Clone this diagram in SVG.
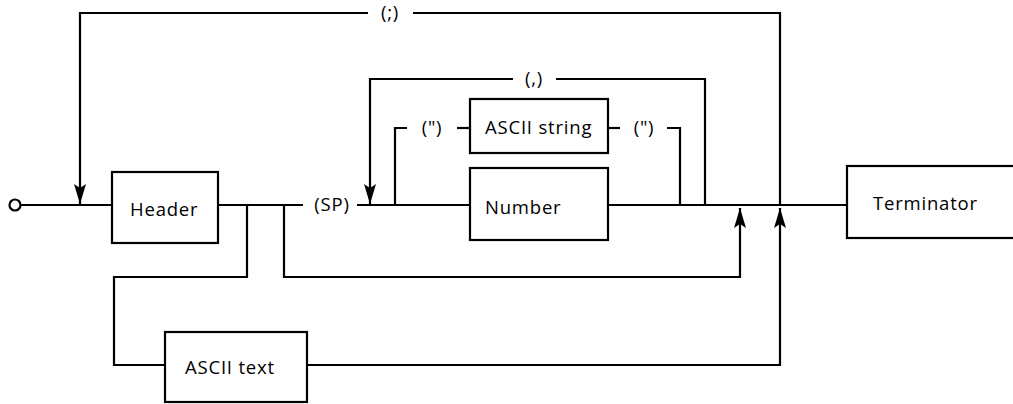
<svg xmlns="http://www.w3.org/2000/svg" width="1013" height="404" viewBox="0 0 1013 404">
<style>
.box{fill:#fff;stroke:#000;stroke-width:2.2}
.ln{fill:none;stroke:#000;stroke-width:2.2}
.t{font-family:"Open Sans","Liberation Sans",sans-serif;font-size:18.5px;fill:#000;letter-spacing:0.8px}
</style>
<defs>
<marker id="ah" viewBox="0 0 20 12" refX="20" refY="6" markerWidth="20" markerHeight="12" markerUnits="userSpaceOnUse" orient="auto">
<path d="M0,0 L20,6 L0,12 L4,6 Z" fill="#000"/>
</marker>
</defs>
<g id="connectors">
<circle cx="15" cy="205" r="5.5" class="ln" fill="#fff"/>
<path class="ln" d="M20.5,205 H112"/>
<path class="ln" d="M218,205 H303"/>
<path class="ln" d="M357,205 H470"/>
<path class="ln" d="M608,205 H847"/>
<path class="ln" d="M368,13 H80 V204" marker-end="url(#ah)"/>
<path class="ln" d="M413,13 H780 V205"/>
<path class="ln" d="M513,79 H370 V204" marker-end="url(#ah)"/>
<path class="ln" d="M556,79 H705 V205"/>
<path class="ln" d="M407,128 H395 V205"/>
<path class="ln" d="M457,128 H470"/>
<path class="ln" d="M608,128 H620"/>
<path class="ln" d="M667,128 H680 V205"/>
<path class="ln" d="M247,205 V277 H114 V365 H165"/>
<path class="ln" d="M284,205 V277 H740 V208" marker-end="url(#ah)"/>
<path class="ln" d="M307,365 H780 V208" marker-end="url(#ah)"/>
<text class="t" x="390" y="19" text-anchor="middle">(;)</text>
<text class="t" x="534" y="85" text-anchor="middle">(,)</text>
<text class="t" x="432" y="134" text-anchor="middle">(")</text>
<text class="t" x="644" y="134" text-anchor="middle">(")</text>
<text class="t" x="332" y="211" text-anchor="middle">(SP)</text>
</g>
<g id="header"><rect class="box" x="112" y="172" width="106" height="71"/><text class="t" x="130" y="216">Header</text></g>
<g id="number"><rect class="box" x="470" y="168" width="138" height="72"/><text class="t" x="485" y="214">Number</text></g>
<g id="ascii-string"><rect class="box" x="470" y="99" width="138" height="54"/><text class="t" x="485" y="134" letter-spacing="0">ASCII string</text></g>
<g id="ascii-text"><rect class="box" x="165" y="332" width="142" height="70"/><text class="t" x="185" y="374">ASCII text</text></g>
<g id="terminator"><rect class="box" x="847" y="166" width="175" height="72"/><text class="t" x="873" y="210">Terminator</text></g>
</svg>
